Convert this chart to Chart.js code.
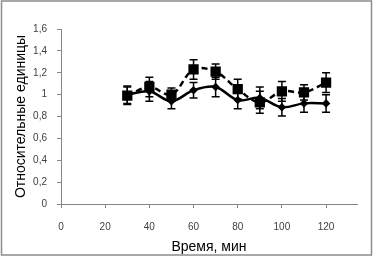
<!DOCTYPE html>
<html>
<head>
<meta charset="utf-8">
<script src="https://cdn.jsdelivr.net/npm/chart.js@4"></script>
<style>
  html, body { margin: 0; padding: 0; background: #fff; }
  #wrap { width: 374px; height: 258px; position: relative; }
</style>
</head>
<body>
<div id="wrap"><canvas id="chart"></canvas></div>
<script>
const times = [30, 40, 50, 60, 70, 80, 90, 100, 110, 120];
const solidValues = [1.0, 1.03, 0.94, 1.04, 1.07, 0.95, 0.97, 0.885, 0.92, 0.92];
const solidErrors = [0.08, 0.09, 0.07, 0.07, 0.09, 0.08, 0.1, 0.08, 0.08, 0.08];
const dashedValues = [0.99, 1.07, 1.0, 1.23, 1.21, 1.05, 0.93, 1.03, 1.02, 1.11];
const dashedErrors = [0.08, 0.09, 0.06, 0.09, 0.07, 0.09, 0.1, 0.09, 0.07, 0.09];
const xTicks = [0, 20, 40, 60, 80, 100, 120];
const yTicks = [0, 0.2, 0.4, 0.6, 0.8, 1, 1.2, 1.4, 1.6];

const FONT = "'Liberation Sans', Arial, sans-serif";

const toPoints = (vals) => vals.map((v, i) => ({ x: times[i], y: v }));

const errorBars = {
  id: "errorBars",
  afterDatasetsDraw(chart) {
    const ctx = chart.ctx;
    const yScale = chart.scales.y;
    ctx.save();
    ctx.strokeStyle = "#000";
    ctx.lineWidth = 1.5;
    chart.data.datasets.forEach((ds, di) => {
      const meta = chart.getDatasetMeta(di);
      meta.data.forEach((pt, i) => {
        const v = ds.data[i].y;
        const e = ds.errors[i];
        const top = yScale.getPixelForValue(v + e);
        const bot = yScale.getPixelForValue(v - e);
        ctx.beginPath();
        ctx.moveTo(pt.x, top);
        ctx.lineTo(pt.x, bot);
        ctx.moveTo(pt.x - 4, top);
        ctx.lineTo(pt.x + 4, top);
        ctx.moveTo(pt.x - 4, bot);
        ctx.lineTo(pt.x + 4, bot);
        ctx.stroke();
      });
    });
    ctx.restore();
  },
};

const frame = {
  id: "frame",
  afterDraw(chart) {
    const ctx = chart.ctx;
    ctx.save();
    ctx.strokeStyle = "#8c8c8c";
    ctx.lineWidth = 1.5;
    ctx.strokeRect(1.5, 1, 370, 254);
    ctx.restore();
  },
};

new Chart(document.getElementById("chart"), {
  type: "line",
  data: {
    datasets: [
      {
        label: "A",
        data: toPoints(solidValues),
        errors: solidErrors,
        borderColor: "#000",
        backgroundColor: "#000",
        borderWidth: 2.5,
        tension: 0.35,
        pointStyle: "rectRot",
        pointRadius: 2.5,
      },
      {
        label: "B",
        data: toPoints(dashedValues),
        errors: dashedErrors,
        borderColor: "#000",
        backgroundColor: "#000",
        borderWidth: 2.5,
        borderDash: [6, 4],
        tension: 0.35,
        pointStyle: "rect",
        pointRadius: 5.5,
      },
    ],
  },
  options: {
    responsive: true,
    maintainAspectRatio: false,
    animation: false,
    layout: {
      padding: { left: 2, right: 17, top: 29, bottom: 2 },
    },
    plugins: {
      legend: { display: false },
      tooltip: { enabled: false },
    },
    scales: {
      x: {
        type: "linear",
        min: 0,
        max: 134,
        afterBuildTicks: (scale) => {
          scale.ticks = xTicks.map((v) => ({ value: v }));
        },
        afterFit: (scale) => {
          scale.height = 52;
        },
        grid: {
          drawOnChartArea: false,
          tickLength: 4,
          color: "#868686",
        },
        border: { color: "#868686", width: 1 },
        ticks: {
          padding: 13,
          color: "#404040",
          font: { family: FONT, size: 10 },
          maxRotation: 0,
        },
        title: {
          display: true,
          text: "Время, мин",
          color: "#000",
          font: { family: FONT, size: 14 },
          padding: { top: 0, bottom: 0 },
        },
      },
      y: {
        min: 0,
        max: 1.6,
        afterBuildTicks: (scale) => {
          scale.ticks = yTicks.map((v) => ({ value: v }));
        },
        afterFit: (scale) => {
          scale.width = 59;
        },
        grid: {
          drawOnChartArea: false,
          tickLength: 4,
          color: "#868686",
        },
        border: { color: "#868686", width: 1 },
        ticks: {
          padding: 10,
          color: "#404040",
          font: { family: FONT, size: 10 },
          callback: (v) => String(v).replace(".", ","),
        },
        title: {
          display: true,
          text: "Относительные единицы",
          color: "#000",
          font: { family: FONT, size: 14 },
          padding: { top: 11, bottom: 0 },
        },
      },
    },
  },
  plugins: [errorBars, frame],
});
</script>
</body>
</html>
